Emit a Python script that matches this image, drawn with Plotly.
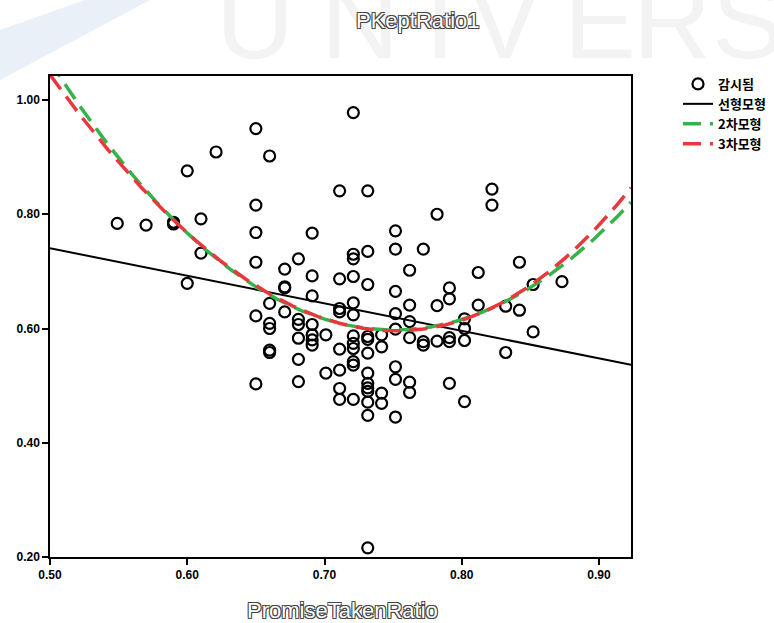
import numpy as np
import plotly.graph_objects as go

# Observed points (PromiseTakenRatio, PKeptRatio1)
x_obs = (
    [0.549, 0.570, 0.590, 0.590, 0.600, 0.600, 0.610, 0.610, 0.621]
    + [0.650] * 6 + [0.660] * 6 + [0.671] * 4 + [0.681] * 6 + [0.691] * 7
    + [0.701] * 2 + [0.711] * 8 + [0.721] * 12 + [0.7315] * 13 + [0.7416] * 4
    + [0.7517] * 8 + [0.762] * 6 + [0.772] * 3 + [0.782] * 3 + [0.791] * 5
    + [0.802] * 4 + [0.812] * 2 + [0.822] * 2 + [0.832] * 2 + [0.842] * 2
    + [0.852] * 2 + [0.873]
)
y_obs = (
    [0.784, 0.781, 0.783, 0.786, 0.876, 0.679, 0.792, 0.732, 0.909]
    + [0.950, 0.816, 0.768, 0.716, 0.622, 0.503]
    + [0.902, 0.644, 0.609, 0.600, 0.562, 0.558]
    + [0.704, 0.673, 0.671, 0.629]
    + [0.722, 0.616, 0.607, 0.583, 0.546, 0.507]
    + [0.767, 0.692, 0.657, 0.607, 0.589, 0.580, 0.571]
    + [0.589, 0.522]
    + [0.841, 0.687, 0.635, 0.629, 0.564, 0.527, 0.495, 0.476]
    + [0.978, 0.730, 0.722, 0.691, 0.645, 0.624, 0.587, 0.574, 0.565, 0.542, 0.536, 0.476]
    + [0.841, 0.735, 0.677, 0.586, 0.581, 0.557, 0.522, 0.504, 0.496, 0.490, 0.471, 0.448, 0.216]
    + [0.589, 0.568, 0.487, 0.469]
    + [0.771, 0.739, 0.665, 0.626, 0.599, 0.533, 0.511, 0.445]
    + [0.702, 0.641, 0.612, 0.584, 0.506, 0.488]
    + [0.739, 0.577, 0.571]
    + [0.800, 0.640, 0.578]
    + [0.671, 0.652, 0.584, 0.577, 0.504]
    + [0.617, 0.600, 0.579, 0.472]
    + [0.698, 0.641]
    + [0.844, 0.816]
    + [0.639, 0.558]
    + [0.716, 0.632]
    + [0.677, 0.594]
    + [0.682]
)

x_ticks = [0.50, 0.60, 0.70, 0.80, 0.90]
y_ticks = [0.20, 0.40, 0.60, 0.80, 1.00]
legend_names = ["감시됨", "선형모형", "2차모형", "3차모형"]
title_text = "PKeptRatio1"
x_title = "PromiseTakenRatio"
x_range = [0.5, 0.9233]
y_range = [0.2, 1.042]

# Curve-estimation fits computed from the observed points
xa = np.array(x_obs)
ya = np.array(y_obs)
grid = np.linspace(x_range[0], x_range[1], 300)
fit1 = np.polyval(np.polyfit(xa, ya, 1), grid)
fit2 = np.polyval(np.polyfit(xa, ya, 2), grid)
# cubic model (quadratic term dropped by tolerance, as in SPSS curve estimation)
c3, *_ = np.linalg.lstsq(np.column_stack([np.ones_like(xa), xa, xa**3]), ya, rcond=None)
fit3 = c3[0] + c3[1] * grid + c3[2] * grid**3

W, H = 774, 623
L, R, T, B = 50, 143, 76, 66
pw, ph = W - L - R, H - T - B


def px(xp):
    return (xp - L) / pw


def py(yp):
    return (H - B - yp) / ph


fig = go.Figure()
fig.add_trace(go.Scatter(
    x=x_obs, y=y_obs, mode="markers", name=legend_names[0],
    marker=dict(symbol="circle-open", size=11, color="black", line=dict(width=2.2, color="black")),
))
fig.add_trace(go.Scatter(
    x=grid, y=fit1, mode="lines", name=legend_names[1],
    line=dict(color="black", width=2),
))
fig.add_trace(go.Scatter(
    x=grid, y=fit2, mode="lines", name=legend_names[2],
    line=dict(color="#35b24a", width=3.5, dash="18px,9px"),
))
fig.add_trace(go.Scatter(
    x=grid, y=fit3, mode="lines", name=legend_names[3],
    line=dict(color="#e8383d", width=3.5, dash="18px,9px"),
))

axis_common = dict(
    showgrid=False, zeroline=False, showline=True, linecolor="black", linewidth=1.5,
    mirror=True, ticks="outside", ticklen=6, tickwidth=1.5, tickcolor="black",
    tickfont=dict(family="Liberation Sans, Arial, sans-serif", size=12, color="black", weight="bold"),
)
fig.update_xaxes(range=x_range, tickvals=x_ticks, tickformat=".2f", **axis_common)
fig.update_yaxes(range=y_range, tickvals=y_ticks, tickformat=".2f", **axis_common)

outline = "1px 1px 0 #444, -1px -1px 0 #444, 1px -1px 0 #444, -1px 1px 0 #444"
annotations = []
wm_letters = ["U", "N", "I", "V", "E", "R", "S"]
wm_x = [255, 360, 440, 505, 600, 672, 748]
for ch, cx in zip(wm_letters, wm_x):
    annotations.append(dict(
        text=ch, x=px(cx), y=py(20), xref="paper", yref="paper", showarrow=False,
        xanchor="center", yanchor="middle",
        font=dict(family="Liberation Sans, Arial", size=108, color="#f3f3f3"),
    ))
annotations.append(dict(
    text=title_text, x=px(418), y=py(21), xref="paper", yref="paper", showarrow=False,
    xanchor="center", yanchor="middle",
    font=dict(family="Liberation Sans, Arial", size=22, color="white", shadow=outline),
))
annotations.append(dict(
    text=x_title, x=px(342), y=py(610), xref="paper", yref="paper", showarrow=False,
    xanchor="center", yanchor="middle",
    font=dict(family="Liberation Sans, Arial", size=22, color="white", shadow=outline),
))

shapes = [dict(
    type="path", xref="paper", yref="paper", layer="below",
    path=f"M {px(85)} {py(0)} L {px(150)} {py(0)} L {px(0)} {py(80)} L {px(0)} {py(30)} Z",
    fillcolor="#eaf0f8", line=dict(width=0),
)]

fig.update_layout(
    width=W, height=H,
    margin=dict(l=L, r=R, t=T, b=B, pad=0, autoexpand=False),
    paper_bgcolor="white", plot_bgcolor="white",
    showlegend=True,
    legend=dict(
        x=px(678), y=py(69), xanchor="left", yanchor="top",
        font=dict(family="Noto Sans CJK KR", size=13, color="black", weight="bold"),
        bgcolor="rgba(0,0,0,0)", borderwidth=0, tracegroupgap=0,
    ),
    annotations=annotations,
    shapes=shapes,
)

fig.write_html("out.html")
